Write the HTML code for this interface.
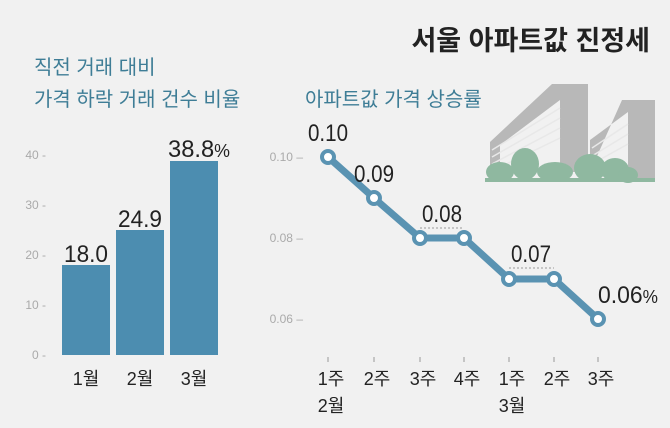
<!DOCTYPE html>
<html><head><meta charset="utf-8"><style>
body{margin:0;width:670px;height:423px;background:#f1f1f1;overflow:hidden;font-family:"Liberation Sans","Noto Sans CJK KR",sans-serif}
</style></head><body>
<svg width="670" height="423" xmlns="http://www.w3.org/2000/svg" style="font-family:'Liberation Sans','Noto Sans CJK KR',sans-serif">
<rect width="670" height="423" fill="#f1f1f1"/>
<text x="650" y="50" text-anchor="end" font-size="27" font-weight="bold" fill="#222">서울 아파트값 진정세</text>
<text x="34" y="74" font-size="20" fill="#3e7d96">직전 거래 대비</text>
<text x="34" y="106" font-size="20" fill="#3e7d96">가격 하락 거래 건수 비율</text>
<text x="305" y="106" font-size="20" fill="#3e7d96">아파트값 가격 상승률</text>
<!-- buildings -->
<g fill="#b8b8b8">
<polygon points="552,84 588,84 588,172 560,172 560,100 500,145 500,172 490,172 490,142"/>
<polygon points="622,100 655,100 655,180 628,180 628,112 590,140 590,172"/>
</g>
<g stroke="#e8e8e8" stroke-width="1.5">
<line x1="492" y1="150" x2="560" y2="108"/><line x1="492" y1="157" x2="560" y2="118"/><line x1="492" y1="164" x2="560" y2="128"/><line x1="492" y1="171" x2="560" y2="138"/>
<line x1="592" y1="148" x2="628" y2="124"/><line x1="592" y1="156" x2="628" y2="134"/><line x1="592" y1="164" x2="628" y2="144"/>
</g>
<g fill="#8fb8a0">
<ellipse cx="500" cy="172" rx="14" ry="10"/><ellipse cx="525" cy="164" rx="14" ry="16"/><ellipse cx="555" cy="172" rx="18" ry="10"/><ellipse cx="590" cy="168" rx="16" ry="14"/><ellipse cx="615" cy="170" rx="14" ry="12"/><ellipse cx="628" cy="175" rx="10" ry="8"/>
</g>
<rect x="485" y="178" width="170" height="4" fill="#8fb8a0"/>
<!-- bar chart -->
<g font-size="12" fill="#aaa" text-anchor="end">
<text x="46" y="159">40 -</text><text x="46" y="209">30 -</text><text x="46" y="259">20 -</text><text x="46" y="309">10 -</text><text x="46" y="359">0 -</text>
</g>
<g fill="#4c8db0">
<rect x="62" y="265" width="48" height="90"/><rect x="116" y="230" width="48" height="125"/><rect x="170" y="161" width="48" height="194"/>
</g>
<g font-size="24" fill="#222">
<text x="64" y="262" textLength="44" lengthAdjust="spacingAndGlyphs">18.0</text>
<text x="118" y="227" textLength="44" lengthAdjust="spacingAndGlyphs">24.9</text>
<text x="168" y="157" textLength="62" lengthAdjust="spacingAndGlyphs">38.8<tspan font-size="18">%</tspan></text>
</g>
<g font-size="18" fill="#222" text-anchor="middle">
<text x="86" y="385">1월</text><text x="140" y="385">2월</text><text x="194" y="385">3월</text>
</g>
<!-- line chart -->
<g font-size="12" fill="#aaa" text-anchor="end">
<text x="303" y="161">0.10 –</text><text x="303" y="242">0.08 –</text><text x="303" y="323">0.06 –</text>
</g>
<polyline points="328,157 374,198 420,238 464,238 509,279 554,279 598,319" fill="none" stroke="#5a93b2" stroke-width="7"/>
<g fill="#fff" stroke="#5a93b2" stroke-width="4">
<circle cx="328" cy="157" r="6"/><circle cx="374" cy="198" r="6"/><circle cx="420" cy="238" r="6"/><circle cx="464" cy="238" r="6"/><circle cx="509" cy="279" r="6"/><circle cx="554" cy="279" r="6"/><circle cx="598" cy="319" r="6"/>
</g>
<g stroke="#999" stroke-dasharray="2,2"><line x1="420" y1="228" x2="464" y2="228"/><line x1="509" y1="268" x2="554" y2="268"/></g>
<g font-size="24" fill="#222">
<text x="308" y="141" textLength="40" lengthAdjust="spacingAndGlyphs">0.10</text>
<text x="354" y="182" textLength="40" lengthAdjust="spacingAndGlyphs">0.09</text>
<text x="422" y="222" textLength="40" lengthAdjust="spacingAndGlyphs">0.08</text>
<text x="511" y="262" textLength="40" lengthAdjust="spacingAndGlyphs">0.07</text>
<text x="598" y="303" textLength="60" lengthAdjust="spacingAndGlyphs">0.06<tspan font-size="18">%</tspan></text>
</g>
<g stroke="#999"><line x1="328" y1="357" x2="328" y2="362"/><line x1="374" y1="357" x2="374" y2="362"/><line x1="420" y1="357" x2="420" y2="362"/><line x1="464" y1="357" x2="464" y2="362"/><line x1="509" y1="357" x2="509" y2="362"/><line x1="554" y1="357" x2="554" y2="362"/><line x1="598" y1="357" x2="598" y2="362"/></g>
<g font-size="18" fill="#222" text-anchor="middle">
<text x="331" y="385">1주</text><text x="377" y="385">2주</text><text x="423" y="385">3주</text><text x="467" y="385">4주</text><text x="512" y="385">1주</text><text x="557" y="385">2주</text><text x="601" y="385">3주</text>
<text x="331" y="412">2월</text><text x="512" y="412">3월</text>
</g>
</svg>
</body></html>
